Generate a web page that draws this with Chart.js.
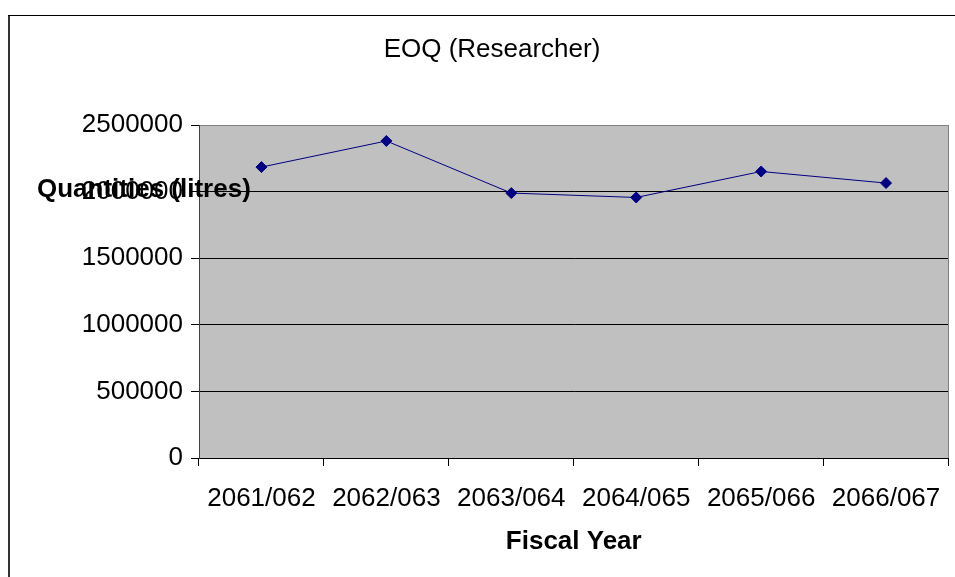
<!DOCTYPE html>
<html>
<head>
<meta charset="utf-8">
<title>EOQ (Researcher)</title>
<script src="https://cdn.jsdelivr.net/npm/chart.js@4/dist/chart.umd.min.js"></script>
<style>
  html, body { margin: 0; padding: 0; background: #ffffff; }
  canvas { display: block; }
</style>
</head>
<body>
<canvas id="eoq" width="955" height="577"></canvas>
<script>
// Fiscal years and the economic order quantity (litres) for each
const fiscalYears = ['2061/062', '2062/063', '2063/064', '2064/065', '2065/066', '2066/067'];
const eoqLitres = [2184000, 2380000, 1989000, 1956000, 2151000, 2064000];

// Value axis range and labels
const yMin = 0;
const yMax = 2500000;
const yStep = 500000;

const chartTitle = 'EOQ (Researcher)';
const xAxisTitle = 'Fiscal Year';
const yAxisTitle = 'Quantities (litres)';

const FONT = '"Liberation Sans", Arial, Helvetica, sans-serif';
const FONT_SIZE = 26;

// Paints the page frame, the grey plot background and the plot's right edge
const framePlugin = {
  id: 'frame',
  beforeDraw(chart) {
    const { ctx, chartArea: a, width, height } = chart;
    ctx.save();
    ctx.fillStyle = '#ffffff';
    ctx.fillRect(0, 0, width, height);
    ctx.fillStyle = '#c0c0c0';
    ctx.fillRect(a.left, a.top, a.right - a.left, a.bottom - a.top);
    // outer frame (left and top edges are inside the page)
    ctx.strokeStyle = '#333333';
    ctx.lineWidth = 2;
    ctx.beginPath();
    ctx.moveTo(9, height + 2);
    ctx.lineTo(9, 15.5);
    ctx.stroke();
    ctx.lineWidth = 1;
    ctx.strokeStyle = '#000000';
    ctx.beginPath();
    ctx.moveTo(8, 15.5);
    ctx.lineTo(width + 2, 15.5);
    ctx.stroke();
    ctx.restore();
  },
  beforeDatasetsDraw(chart) {
    const { ctx, chartArea: a } = chart;
    ctx.save();
    ctx.strokeStyle = '#808080';
    ctx.lineWidth = 1;
    ctx.beginPath();
    ctx.moveTo(Math.round(a.right) - 0.5, a.top);
    ctx.lineTo(Math.round(a.right) - 0.5, a.bottom);
    ctx.stroke();
    ctx.restore();
  }
};

// Chart title and the two axis titles (the value-axis title sits horizontally)
const titlesPlugin = {
  id: 'titles',
  afterDraw(chart) {
    const { ctx, chartArea: a } = chart;
    ctx.save();
    ctx.fillStyle = '#000000';
    ctx.textBaseline = 'middle';

    ctx.font = `${FONT_SIZE}px ${FONT}`;
    ctx.textAlign = 'center';
    ctx.fillText(chartTitle, 492, 50);

    ctx.font = `bold ${FONT_SIZE}px ${FONT}`;
    ctx.fillText(xAxisTitle, (a.left + a.right) / 2, 542);

    ctx.textAlign = 'left';
    ctx.fillText(yAxisTitle, 37, 190);
    ctx.restore();
  }
};

new Chart(document.getElementById('eoq'), {
  type: 'line',
  data: {
    labels: fiscalYears,
    datasets: [{
      label: chartTitle,
      data: eoqLitres,
      borderColor: '#000080',
      backgroundColor: '#000080',
      borderWidth: 1,
      tension: 0,
      fill: false,
      pointStyle: 'rectRot',
      pointRadius: 5.5,
      pointBorderWidth: 1,
      pointBackgroundColor: '#000080',
      pointBorderColor: '#000080'
    }]
  },
  options: {
    responsive: false,
    animation: false,
    devicePixelRatio: 1,
    layout: { padding: { top: 125, left: 0, right: 5, bottom: 0 } },
    plugins: {
      legend: { display: false },
      title: { display: false },
      tooltip: { enabled: false }
    },
    scales: {
      x: {
        type: 'category',
        offset: true,
        afterFit(scale) {
          scale.height = 119;
          scale.paddingLeft = 0;
          scale.paddingRight = 0;
        },
        grid: {
          offset: true,
          drawOnChartArea: false,
          drawTicks: true,
          tickLength: 8,
          color: '#000000',
          tickColor: '#000000'
        },
        border: { display: true, color: '#000000', width: 1 },
        ticks: {
          color: '#000000',
          font: { family: FONT, size: FONT_SIZE },
          padding: 17,
          maxRotation: 0,
          autoSkip: false
        }
      },
      y: {
        min: yMin,
        max: yMax,
        afterFit(scale) { scale.width = 199; },
        grid: {
          color: (c) => (c.tick && c.tick.value === yMax ? '#808080' : '#000000'),
          tickColor: '#000000',
          lineWidth: 1,
          drawTicks: true,
          tickLength: 8
        },
        border: { display: true, color: '#404040', width: 1 },
        ticks: {
          stepSize: yStep,
          color: '#000000',
          font: { family: FONT, size: FONT_SIZE },
          padding: 8,
          callback: (v) => String(v)
        }
      }
    }
  },
  plugins: [framePlugin, titlesPlugin]
});
</script>
</body>
</html>
